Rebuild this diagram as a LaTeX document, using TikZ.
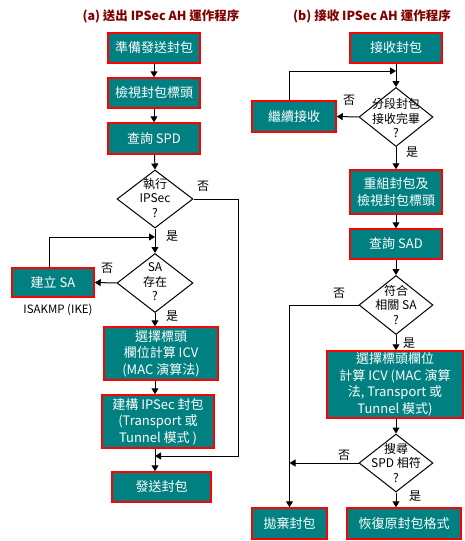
\documentclass[tikz,border=0pt]{standalone}
\usepackage{fontspec}
\setmainfont{Noto Sans CJK TC}
\usetikzlibrary{shapes.geometric,arrows.meta}

\definecolor{boxfill}{RGB}{0,128,128}
\definecolor{boxline}{RGB}{255,0,0}
\definecolor{titlered}{RGB}{128,0,0}

\tikzset{every picture/.style={line width=1pt}}
\tikzset{
  procbox/.style={draw=boxline, line width=1.5pt, fill=boxfill, text=white, inner sep=0pt, align=center, font=\fontsize{13}{16.5}\selectfont},
  decision/.style={draw=black, fill=white, shape=diamond, inner sep=0pt},
  dtext/.style={inner sep=0pt, align=center, font=\fontsize{12}{14.5}\selectfont},
  ans/.style={inner sep=0pt, font=\fontsize{12}{14}\selectfont},
  heading/.style={inner sep=0pt, text=titlered, font=\bfseries\fontsize{12.5}{14}\selectfont},
  flow/.style={-{Triangle[width=7pt,length=6pt]}},
}

\begin{document}
\begin{tikzpicture}[x=1pt,y=1pt,yscale=-1,xscale=1]
\useasboundingbox (0,0) rectangle (465,541);

% Text Node
\draw (161,16) node [heading] (ta) {(a) 送出 IPSec AH 運作程序};
% Text Node
\draw (372,16) node [heading] (tb) {(b) 接收 IPSec AH 運作程序};

%%%%% (a) sending side
%Shape: Rectangle
\draw (154,48) node [procbox, minimum width=92, minimum height=30] (snew) {準備發送封包};
%Shape: Rectangle
\draw (154,93) node [procbox, minimum width=92, minimum height=30] (shead) {檢視封包標頭};
%Shape: Rectangle
\draw (154,138.5) node [procbox, minimum width=92, minimum height=31] (sspd) {查詢 SPD};
%Shape: Diamond
\draw (155,199) node [decision, minimum width=76, minimum height=58] (dipsec) {};
\draw (155,198) node [dtext] (dipsect) {執行\\IPSec\\?};
%Shape: Diamond
\draw (155,283) node [decision, minimum width=76, minimum height=59] (dsa) {};
\draw (155,282) node [dtext] (dsat) {SA\\存在\\?};
%Shape: Rectangle
\draw (53,282.5) node [procbox, minimum width=82, minimum height=29] (mksa) {建立 SA};
% Text Node
\draw (58,310) node [ans, font=\fontsize{11.5}{14}\selectfont] (ike) {ISAKMP (IKE)};
%Shape: Rectangle
\draw (161,353.5) node [procbox, minimum width=114, minimum height=53] (sicv) {選擇標頭\\欄位計算 ICV\\(MAC 演算法)};
%Shape: Rectangle
\draw (158,421.5) node [procbox, minimum width=112, minimum height=53] (sbuild) {建構 IPSec 封包\\(Transport 或\\Tunnel 模式 )};
%Shape: Rectangle
\draw (161.5,487) node [procbox, minimum width=99, minimum height=30] (ssend) {發送封包};

\coordinate (sjoin) at (155,237);
\coordinate (sskip) at (155,456);

%Straight Lines
\draw [flow] (snew) -- (shead);
\draw [flow] (shead) -- (sspd);
\draw [flow] (sspd) -- (dipsec.north);
\draw [flow] (dipsec.south) -- (dsa.north);
\draw [flow] ([xshift=-4pt]mksa.north) |- (sjoin);
\draw [flow] (dsa.west) -- (mksa.east);
\draw [flow] (dsa.south) -- (dsa.south |- sicv.north);
\draw [flow] (dsa.south |- sicv.south) -- (dsa.south |- sbuild.north);
\draw [flow] (sskip |- sbuild.south) -- (sskip |- ssend.north);
\draw [flow] (dipsec.east) -| (238,456) -- (sskip);

% Text Node
\draw (203,186) node [ans] (sno1) {否};
\draw (172,236) node [ans] (syes1) {是};
\draw (107,268) node [ans] (sno2) {否};
\draw (172,316) node [ans] (syes2) {是};

%%%%% (b) receiving side
%Shape: Rectangle
\draw (396,48) node [procbox, minimum width=92, minimum height=30] (rget) {接收封包};
%Shape: Diamond
\draw (396,117) node [decision, minimum width=74, minimum height=59] (dfrag) {};
\draw (396,118) node [dtext] (dfragt) {分段封包\\接收完畢\\?};
%Shape: Rectangle
\draw (294,116.5) node [procbox, minimum width=84, minimum height=31] (rcont) {繼續接收};
%Shape: Rectangle
\draw (396,192) node [procbox, minimum width=92, minimum height=44] (rjoin) {重組封包及\\檢視封包標頭};
%Shape: Rectangle
\draw (396,244) node [procbox, minimum width=92, minimum height=30] (rsad) {查詢 SAD};
%Shape: Diamond
\draw (396,305) node [decision, minimum width=74, minimum height=59] (dmatch) {};
\draw (396,305) node [dtext] (dmatcht) {符合\\相關 SA\\?};
%Shape: Rectangle
\draw (395,384.5) node [procbox, minimum width=136, minimum height=67] (ricv) {選擇標頭欄位\\計算 ICV (MAC 演算\\法, Transport 或\\Tunnel 模式)};
%Shape: Diamond
\draw (396,463) node [decision, minimum width=74, minimum height=58] (dspd) {};
\draw (396,463) node [dtext] (dspdt) {搜尋\\SPD 相符\\?};
%Shape: Rectangle
\draw (289.5,523.5) node [procbox, minimum width=75, minimum height=31] (rdrop) {拋棄封包};
%Shape: Rectangle
\draw (404,523.5) node [procbox, minimum width=114, minimum height=31] (rdone) {恢復原封包格式};

\coordinate (rloop) at (396,71);

%Straight Lines
\draw [flow] (rget) -- (dfrag.north);
\draw [flow] ([xshift=-5pt]rcont.north) |- (rloop);
\draw [flow] (dfrag.west) -- (rcont.east);
\draw [flow] (dfrag.south) -- (rjoin.north);
\draw [flow] (rjoin) -- (rsad);
\draw [flow] (rsad) -- (dmatch.north);
\draw [flow] (dmatch.south) -- (dmatch.south |- ricv.north);
\draw [flow] (dspd.north |- ricv.south) -- (dspd.north);
\draw [flow] (dspd.south) -- (dspd.south |- rdone.north);
\draw [flow] (dmatch.west) -| (rdrop.north);
\draw [flow] (dspd.west) -- (rdrop.north |- dspd.west);

% Text Node
\draw (349,100) node [ans] (rno1) {否};
\draw (412,152) node [ans] (ryes1) {是};
\draw (339,293) node [ans] (rno2) {否};
\draw (409,343) node [ans] (ryes2) {是};
\draw (344,455) node [ans] (rno3) {否};
\draw (415,496) node [ans] (ryes3) {是};

\end{tikzpicture}
\end{document}
